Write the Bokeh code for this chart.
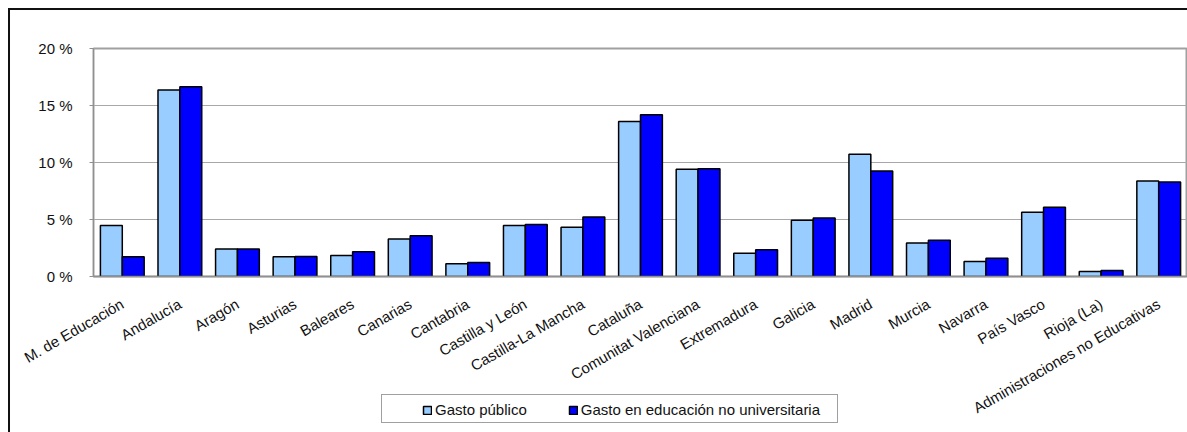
import math
from bokeh.plotting import figure
from bokeh.models import ColumnDataSource, Range1d, FixedTicker, PrintfTickFormatter, Legend, LegendItem
from bokeh.transform import dodge
from bokeh.embed import file_html
from bokeh.resources import INLINE

categories = ["M. de Educación", "Andalucía", "Aragón", "Asturias", "Baleares", "Canarias",
              "Cantabria", "Castilla y León", "Castilla-La Mancha", "Cataluña",
              "Comunitat Valenciana", "Extremadura", "Galicia", "Madrid", "Murcia",
              "Navarra", "País Vasco", "Rioja (La)", "Administraciones no Educativas"]
gasto_publico = [4.47, 16.36, 2.41, 1.74, 1.85, 3.29, 1.12, 4.47, 4.32, 13.6,
                 9.4, 2.05, 4.93, 10.72, 2.93, 1.32, 5.64, 0.44, 8.37]
gasto_no_univ = [1.73, 16.65, 2.41, 1.76, 2.17, 3.58, 1.23, 4.56, 5.22, 14.19,
                 9.46, 2.35, 5.14, 9.25, 3.17, 1.6, 6.08, 0.53, 8.28]
series_names = ["Gasto público", "Gasto en educación no universitaria"]
series_colors = ["#99ccff", "#0000ff"]
y_ticks = [0, 5, 10, 15, 20]

FONT = "Liberation Sans"

source = ColumnDataSource(dict(cat=categories, a=gasto_publico, b=gasto_no_univ))

p = figure(x_range=categories, y_range=Range1d(0, 20), width=1187, height=432,
           output_backend="svg", toolbar_location=None,
           min_border_left=93, min_border_top=48, min_border_bottom=156, min_border_right=0)
p.border_fill_alpha = 0
p.styles = {"background": "linear-gradient(#111,#111) 8px 8px / 2px 100% no-repeat, "
                          "linear-gradient(#111,#111) 8px 8px / 100% 2px no-repeat, white"}

p.vbar(x=dodge("cat", -0.19, range=p.x_range), top="a", width=0.38, source=source,
       fill_color=series_colors[0], line_color="black", line_width=1.5)
p.vbar(x=dodge("cat", 0.19, range=p.x_range), top="b", width=0.38, source=source,
       fill_color=series_colors[1], line_color="black", line_width=1.5)

p.outline_line_color = "#a0a0a0"
p.outline_line_width = 2
p.xgrid.grid_line_color = None
p.ygrid.grid_line_color = "#a8a8a8"
p.ygrid.grid_line_width = 1.2

p.yaxis.ticker = FixedTicker(ticks=y_ticks)
p.yaxis.formatter = PrintfTickFormatter(format="%d %%")
p.yaxis.axis_line_color = "#909090"
p.yaxis.major_tick_line_color = "#909090"
p.yaxis.major_tick_out = 4
p.yaxis.major_tick_in = 0
p.yaxis.minor_tick_line_color = None
p.yaxis.major_label_standoff = 17

p.xaxis.axis_line_color = "#909090"
p.xaxis.axis_line_width = 1.5
p.xaxis.major_tick_line_color = None
p.xaxis.major_label_orientation = math.pi / 6
p.xaxis.major_label_standoff = 20

for ax in (p.xaxis[0], p.yaxis[0]):
    ax.major_label_text_font = FONT
    ax.major_label_text_font_size = "15px"
    ax.major_label_text_color = "#111111"

# legend box: a small separate figure laid over the bottom of the chart
p2 = figure(width=457, height=29, output_backend="svg", toolbar_location=None,
            x_axis_type=None, y_axis_type=None,
            x_range=Range1d(0, 1), y_range=Range1d(0, 1),
            min_border_left=0, min_border_right=0, min_border_top=0, min_border_bottom=0)
p2.styles = {"position": "absolute", "left": "381px", "top": "394px",
             "border": "1px solid #a0a0a0", "background": "white"}
p2.grid.visible = False
p2.outline_line_color = None
lr1 = p2.vbar(x=[5], top=[1], width=0.5, fill_color=series_colors[0], line_color="black", line_width=1.5)
lr2 = p2.vbar(x=[5], top=[1], width=0.5, fill_color=series_colors[1], line_color="black", line_width=1.5)
legend = Legend(items=[LegendItem(label=series_names[0], renderers=[lr1]),
                       LegendItem(label=series_names[1], renderers=[lr2])],
                orientation="horizontal", location=(40, 6),
                glyph_width=10, glyph_height=10, label_standoff=3, spacing=41,
                padding=0, margin=0,
                label_text_font=FONT, label_text_font_size="15px", label_text_color="#111111",
                border_line_color=None, background_fill_alpha=0)
p2.add_layout(legend, "center")

open("out.html", "w").write(file_html([p, p2], INLINE))
